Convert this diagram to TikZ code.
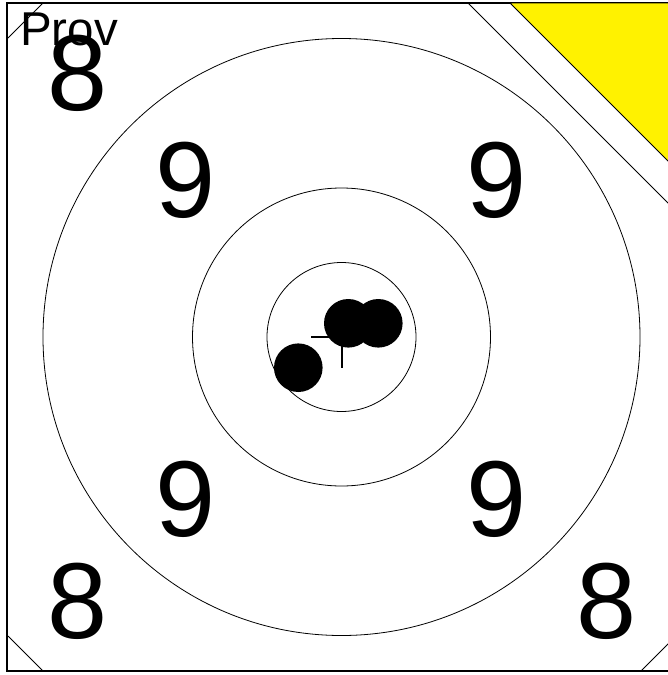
\documentclass[tikz,border=0pt]{standalone}
\usepackage{fontspec}
\setmainfont{Liberation Sans}
\begin{document}
\begin{tikzpicture}[x=1pt,y=-1pt,
  ring/.style={draw=black,line width=0.8pt},
  digit/.style={inner sep=0pt,anchor=base,font=\fontsize{108}{108}\selectfont},
  shot/.style={fill=black},
  thinline/.style={draw=black,line width=0.9pt}]
\useasboundingbox (0,0) rectangle (668,675);
\clip (0,0) rectangle (668,675);
% frame
\draw[line width=2pt] (7,3) rectangle (676,671);
% corner lines
\draw[thinline] (8,38) -- (43,3);
\draw[thinline] (8,636) -- (43,671);
\draw[thinline] (641,671) -- (676,636);
% top-right band and yellow triangle
\draw[thinline] (468,3) -- (676,211);
\filldraw[fill=yellow,draw=black,line width=0.8pt] (510,3) -- (676,3) -- (676,169) -- cycle;
% rings
\draw[ring] (341.5,337) circle (298.5);
\draw[ring] (341.5,337) circle (149);
\draw[ring] (341.5,337) circle (74.5);
% digits
\node[digit] (n9a) at (186,217) {9};
\node[digit] (n9b) at (497,217) {9};
\node[digit] (n9c) at (186,536) {9};
\node[digit] (n9d) at (497,536) {9};
\node[digit] (n8a) at (78,110) {8};
\node[digit] (n8b) at (78,638) {8};
\node[digit] (n8c) at (607,638) {8};
% label
\node[inner sep=0pt,anchor=base west,font=\fontsize{47.5}{47.5}\selectfont] (prov) at (20,45) {Prov};
% aiming cross
\draw[line width=2pt] (311,337) -- (373,337);
\draw[line width=2pt] (342,306) -- (342,368);
% shots
\fill[shot] (348.3,323.3) circle (24.3);
\fill[shot] (378.3,323.3) circle (24.3);
\fill[shot] (298.3,367.7) circle (24.3);
\end{tikzpicture}
\end{document}
